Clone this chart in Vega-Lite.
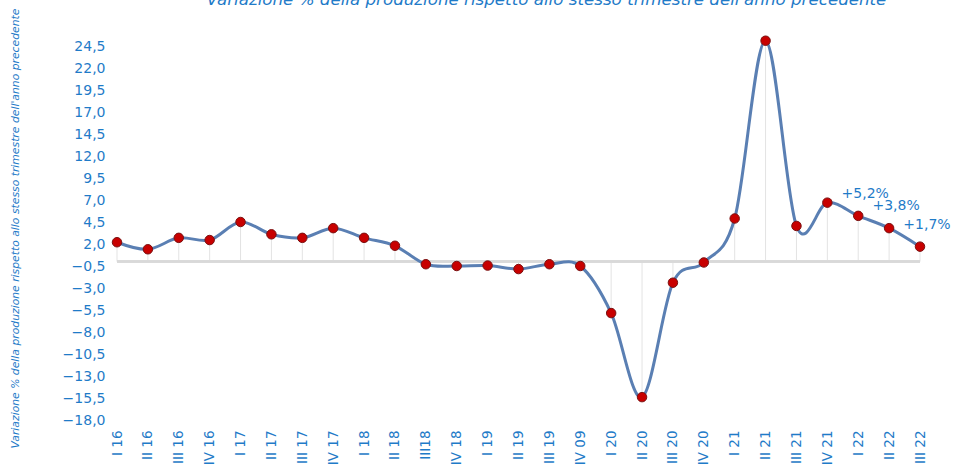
{
  "$schema": "https://vega.github.io/schema/vega-lite/v6.json",
  "width": 803,
  "height": 396,
  "autosize": "none",
  "padding": {"left": 117, "top": 24, "right": 42, "bottom": 51},
  "background": "white",
  "config": {"view": {"stroke": null}, "font": "DejaVu Sans"},
  "title": {
    "text": "Variazione % della produzione rispetto allo stesso trimestre dell'anno precedente",
    "font": "DejaVu Sans",
    "fontSize": 16.7,
    "fontStyle": "italic",
    "fontWeight": "normal",
    "color": "#1f7bc8",
    "anchor": "middle",
    "baseline": "alphabetic",
    "offset": -14,
    "dx": 28
  },
  "data": {
    "values": [
      {"trimestre": "I 16", "variazione": 2.2, "etichetta": ""},
      {"trimestre": "II 16", "variazione": 1.4, "etichetta": ""},
      {"trimestre": "III 16", "variazione": 2.7, "etichetta": ""},
      {"trimestre": "IV 16", "variazione": 2.45, "etichetta": ""},
      {"trimestre": "I 17", "variazione": 4.5, "etichetta": ""},
      {"trimestre": "II 17", "variazione": 3.1, "etichetta": ""},
      {"trimestre": "III 17", "variazione": 2.7, "etichetta": ""},
      {"trimestre": "IV 17", "variazione": 3.8, "etichetta": ""},
      {"trimestre": "I 18", "variazione": 2.7, "etichetta": ""},
      {"trimestre": "II 18", "variazione": 1.8, "etichetta": ""},
      {"trimestre": "III18", "variazione": -0.3, "etichetta": ""},
      {"trimestre": "IV 18", "variazione": -0.5, "etichetta": ""},
      {"trimestre": "I 19", "variazione": -0.45, "etichetta": ""},
      {"trimestre": "II 19", "variazione": -0.85, "etichetta": ""},
      {"trimestre": "III 19", "variazione": -0.3, "etichetta": ""},
      {"trimestre": "IV 09", "variazione": -0.5, "etichetta": ""},
      {"trimestre": "I 20", "variazione": -5.85, "etichetta": ""},
      {"trimestre": "II 20", "variazione": -15.4, "etichetta": ""},
      {"trimestre": "III 20", "variazione": -2.4, "etichetta": ""},
      {"trimestre": "IV 20", "variazione": -0.1, "etichetta": ""},
      {"trimestre": "I 21", "variazione": 4.9, "etichetta": ""},
      {"trimestre": "II 21", "variazione": 25.1, "etichetta": ""},
      {"trimestre": "III 21", "variazione": 4.05, "etichetta": ""},
      {"trimestre": "IV 21", "variazione": 6.7, "etichetta": ""},
      {"trimestre": "I 22", "variazione": 5.2, "etichetta": "+5,2%"},
      {"trimestre": "II 22", "variazione": 3.8, "etichetta": "+3,8%"},
      {"trimestre": "III 22", "variazione": 1.7, "etichetta": "+1,7%"}
    ]
  },
  "encoding": {
    "x": {
      "field": "trimestre",
      "type": "ordinal",
      "sort": null,
      "scale": {"type": "point", "padding": 0},
      "axis": {
        "title": null,
        "labelAngle": -90,
        "labelFont": "DejaVu Sans",
        "labelFontSize": 13.5,
        "labelColor": "#1f7bc8",
        "labelPadding": 10,
        "domain": false,
        "ticks": false,
        "grid": false
      }
    },
    "y": {
      "field": "variazione",
      "type": "quantitative",
      "scale": {"domain": [-18, 27], "nice": false, "zero": false},
      "axis": {
        "title": "Variazione % della produzione rispetto allo stesso trimestre dell'anno precedente",
        "titleFont": "DejaVu Sans",
        "titleFontSize": 10.8,
        "titleFontStyle": "italic",
        "titleFontWeight": "normal",
        "titleColor": "#1f7bc8",
        "titleX": -102,
        "titleY": 204,
        "titleAngle": -90,
        "titleAlign": "center",
        "titleBaseline": "middle",
        "values": [-18, -15.5, -13, -10.5, -8, -5.5, -3, -0.5, 2, 4.5, 7, 9.5, 12, 14.5, 17, 19.5, 22, 24.5],
        "labelExpr": "replace(format(datum.value, '.1f'), '.', ',')",
        "labelFont": "DejaVu Sans",
        "labelFontSize": 14,
        "labelColor": "#1f7bc8",
        "labelPadding": 12,
        "domain": false,
        "ticks": false,
        "grid": false
      }
    }
  },
  "layer": [
    {
      "mark": {"type": "rule", "color": "#e3e3e3", "strokeWidth": 1},
      "encoding": {"y2": {"datum": 0}}
    },
    {
      "mark": {"type": "rule", "color": "#d9d9d9", "strokeWidth": 2},
      "encoding": {"x": {"value": 0}, "x2": {"value": 803}, "y": {"datum": 0}}
    },
    {
      "mark": {"type": "line", "interpolate": "cardinal", "color": "#5a7fb3", "strokeWidth": 3}
    },
    {
      "mark": {"type": "point", "filled": true, "size": 90, "fill": "#c80000", "stroke": "#7a1010", "strokeWidth": 1, "opacity": 1}
    },
    {
      "mark": {"type": "text", "font": "DejaVu Sans", "fontSize": 14, "color": "#1f7bc8", "align": "center", "baseline": "middle", "dx": 7, "dy": -22},
      "encoding": {"text": {"field": "etichetta"}}
    }
  ]
}
